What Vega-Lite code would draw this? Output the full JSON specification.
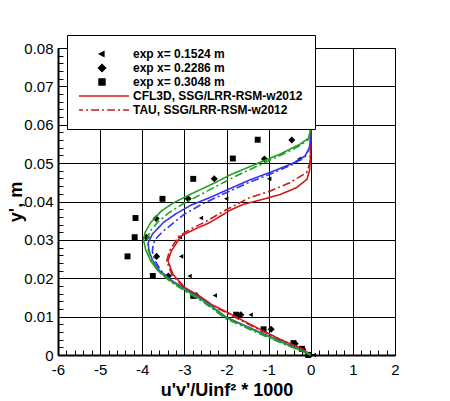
{
  "$schema": "https://vega.github.io/schema/vega-lite/v6.json",
  "width": 337,
  "height": 307,
  "autosize": "none",
  "padding": {"left": 58, "top": 48, "right": 55, "bottom": 46},
  "background": "white",
  "config": {
    "font": "Liberation Sans",
    "view": {"stroke": "black", "strokeWidth": 1}
  },
  "datasets": {
    "exp": [
      {"series": "exp x= 0.1524 m", "x": -0.27, "y": 0.0511},
      {"series": "exp x= 0.1524 m", "x": -0.98, "y": 0.0459},
      {"series": "exp x= 0.1524 m", "x": -2.0, "y": 0.0407},
      {"series": "exp x= 0.1524 m", "x": -2.6, "y": 0.0357},
      {"series": "exp x= 0.1524 m", "x": -3.1, "y": 0.0307},
      {"series": "exp x= 0.1524 m", "x": -3.07, "y": 0.0257},
      {"series": "exp x= 0.1524 m", "x": -2.87, "y": 0.0206},
      {"series": "exp x= 0.1524 m", "x": -2.27, "y": 0.0155},
      {"series": "exp x= 0.1524 m", "x": -1.42, "y": 0.0105},
      {"series": "exp x= 0.1524 m", "x": 0.08, "y": 0.0},
      {"series": "exp x= 0.2286 m", "x": -0.45, "y": 0.056},
      {"series": "exp x= 0.2286 m", "x": -1.1, "y": 0.0511},
      {"series": "exp x= 0.2286 m", "x": -2.29, "y": 0.0459},
      {"series": "exp x= 0.2286 m", "x": -2.91, "y": 0.0407},
      {"series": "exp x= 0.2286 m", "x": -3.67, "y": 0.0356},
      {"series": "exp x= 0.2286 m", "x": -3.9, "y": 0.0307},
      {"series": "exp x= 0.2286 m", "x": -3.66, "y": 0.0257},
      {"series": "exp x= 0.2286 m", "x": -3.38, "y": 0.0206},
      {"series": "exp x= 0.2286 m", "x": -2.72, "y": 0.0155},
      {"series": "exp x= 0.2286 m", "x": -1.66, "y": 0.0105},
      {"series": "exp x= 0.2286 m", "x": -0.94, "y": 0.0067},
      {"series": "exp x= 0.2286 m", "x": -0.37, "y": 0.0029},
      {"series": "exp x= 0.2286 m", "x": -0.19, "y": 0.0015},
      {"series": "exp x= 0.2286 m", "x": -0.02, "y": 0.0},
      {"series": "exp x= 0.3048 m", "x": -1.26, "y": 0.0561},
      {"series": "exp x= 0.3048 m", "x": -1.85, "y": 0.0512},
      {"series": "exp x= 0.3048 m", "x": -2.79, "y": 0.0459},
      {"series": "exp x= 0.3048 m", "x": -3.52, "y": 0.0407},
      {"series": "exp x= 0.3048 m", "x": -4.16, "y": 0.0357},
      {"series": "exp x= 0.3048 m", "x": -4.18, "y": 0.0307},
      {"series": "exp x= 0.3048 m", "x": -4.35, "y": 0.0257},
      {"series": "exp x= 0.3048 m", "x": -3.75, "y": 0.0206},
      {"series": "exp x= 0.3048 m", "x": -2.79, "y": 0.0154},
      {"series": "exp x= 0.3048 m", "x": -1.77, "y": 0.0105},
      {"series": "exp x= 0.3048 m", "x": -1.12, "y": 0.0067},
      {"series": "exp x= 0.3048 m", "x": -0.41, "y": 0.0031},
      {"series": "exp x= 0.3048 m", "x": -0.21, "y": 0.0016},
      {"series": "exp x= 0.3048 m", "x": -0.06, "y": 0.0}
    ],
    "cfd": [
      {"series": "CFL3D, SSG/LRR-RSM-w2012", "code": "CFL3D", "i": 0, "x": 0, "y": 0},
      {"series": "CFL3D, SSG/LRR-RSM-w2012", "code": "CFL3D", "i": 1, "x": -0.18, "y": 0.0015},
      {"series": "CFL3D, SSG/LRR-RSM-w2012", "code": "CFL3D", "i": 2, "x": -0.73, "y": 0.0041},
      {"series": "CFL3D, SSG/LRR-RSM-w2012", "code": "CFL3D", "i": 3, "x": -1.37, "y": 0.0076},
      {"series": "CFL3D, SSG/LRR-RSM-w2012", "code": "CFL3D", "i": 4, "x": -1.96, "y": 0.011},
      {"series": "CFL3D, SSG/LRR-RSM-w2012", "code": "CFL3D", "i": 5, "x": -2.36, "y": 0.0132},
      {"series": "CFL3D, SSG/LRR-RSM-w2012", "code": "CFL3D", "i": 6, "x": -2.59, "y": 0.015},
      {"series": "CFL3D, SSG/LRR-RSM-w2012", "code": "CFL3D", "i": 7, "x": -2.99, "y": 0.0176},
      {"series": "CFL3D, SSG/LRR-RSM-w2012", "code": "CFL3D", "i": 8, "x": -3.27, "y": 0.021},
      {"series": "CFL3D, SSG/LRR-RSM-w2012", "code": "CFL3D", "i": 9, "x": -3.39, "y": 0.0245},
      {"series": "CFL3D, SSG/LRR-RSM-w2012", "code": "CFL3D", "i": 10, "x": -3.31, "y": 0.0271},
      {"series": "CFL3D, SSG/LRR-RSM-w2012", "code": "CFL3D", "i": 11, "x": -3.08, "y": 0.031},
      {"series": "CFL3D, SSG/LRR-RSM-w2012", "code": "CFL3D", "i": 12, "x": -2.75, "y": 0.0328},
      {"series": "CFL3D, SSG/LRR-RSM-w2012", "code": "CFL3D", "i": 13, "x": -2.4, "y": 0.0345},
      {"series": "CFL3D, SSG/LRR-RSM-w2012", "code": "CFL3D", "i": 14, "x": -1.9, "y": 0.0378},
      {"series": "CFL3D, SSG/LRR-RSM-w2012", "code": "CFL3D", "i": 15, "x": -1.61, "y": 0.0392},
      {"series": "CFL3D, SSG/LRR-RSM-w2012", "code": "CFL3D", "i": 16, "x": -1.13, "y": 0.0406},
      {"series": "CFL3D, SSG/LRR-RSM-w2012", "code": "CFL3D", "i": 17, "x": -0.73, "y": 0.0418},
      {"series": "CFL3D, SSG/LRR-RSM-w2012", "code": "CFL3D", "i": 18, "x": -0.34, "y": 0.0436},
      {"series": "CFL3D, SSG/LRR-RSM-w2012", "code": "CFL3D", "i": 19, "x": -0.09, "y": 0.0458},
      {"series": "CFL3D, SSG/LRR-RSM-w2012", "code": "CFL3D", "i": 20, "x": -0.03, "y": 0.048},
      {"series": "CFL3D, SSG/LRR-RSM-w2012", "code": "CFL3D", "i": 21, "x": -0.01, "y": 0.0505},
      {"series": "CFL3D, SSG/LRR-RSM-w2012", "code": "CFL3D", "i": 22, "x": 0, "y": 0.055},
      {"series": "CFL3D, SSG/LRR-RSM-w2012", "code": "CFL3D", "i": 23, "x": 0, "y": 0.06},
      {"series": "TAU, SSG/LRR-RSM-w2012", "code": "TAU", "i": 0, "x": 0, "y": 0},
      {"series": "TAU, SSG/LRR-RSM-w2012", "code": "TAU", "i": 1, "x": -0.2, "y": 0.0015},
      {"series": "TAU, SSG/LRR-RSM-w2012", "code": "TAU", "i": 2, "x": -0.75, "y": 0.0041},
      {"series": "TAU, SSG/LRR-RSM-w2012", "code": "TAU", "i": 3, "x": -1.39, "y": 0.0075},
      {"series": "TAU, SSG/LRR-RSM-w2012", "code": "TAU", "i": 4, "x": -1.98, "y": 0.0109},
      {"series": "TAU, SSG/LRR-RSM-w2012", "code": "TAU", "i": 5, "x": -2.38, "y": 0.0131},
      {"series": "TAU, SSG/LRR-RSM-w2012", "code": "TAU", "i": 6, "x": -2.62, "y": 0.0149},
      {"series": "TAU, SSG/LRR-RSM-w2012", "code": "TAU", "i": 7, "x": -3.02, "y": 0.0176},
      {"series": "TAU, SSG/LRR-RSM-w2012", "code": "TAU", "i": 8, "x": -3.3, "y": 0.021},
      {"series": "TAU, SSG/LRR-RSM-w2012", "code": "TAU", "i": 9, "x": -3.42, "y": 0.0245},
      {"series": "TAU, SSG/LRR-RSM-w2012", "code": "TAU", "i": 10, "x": -3.35, "y": 0.0272},
      {"series": "TAU, SSG/LRR-RSM-w2012", "code": "TAU", "i": 11, "x": -3.13, "y": 0.031},
      {"series": "TAU, SSG/LRR-RSM-w2012", "code": "TAU", "i": 12, "x": -2.82, "y": 0.033},
      {"series": "TAU, SSG/LRR-RSM-w2012", "code": "TAU", "i": 13, "x": -2.5, "y": 0.0347},
      {"series": "TAU, SSG/LRR-RSM-w2012", "code": "TAU", "i": 14, "x": -2.05, "y": 0.0376},
      {"series": "TAU, SSG/LRR-RSM-w2012", "code": "TAU", "i": 15, "x": -1.45, "y": 0.041},
      {"series": "TAU, SSG/LRR-RSM-w2012", "code": "TAU", "i": 16, "x": -0.97, "y": 0.0427},
      {"series": "TAU, SSG/LRR-RSM-w2012", "code": "TAU", "i": 17, "x": -0.5, "y": 0.0449},
      {"series": "TAU, SSG/LRR-RSM-w2012", "code": "TAU", "i": 18, "x": -0.1, "y": 0.0475},
      {"series": "TAU, SSG/LRR-RSM-w2012", "code": "TAU", "i": 19, "x": -0.02, "y": 0.05},
      {"series": "TAU, SSG/LRR-RSM-w2012", "code": "TAU", "i": 20, "x": 0, "y": 0.055},
      {"series": "TAU, SSG/LRR-RSM-w2012", "code": "TAU", "i": 21, "x": 0, "y": 0.058},
      {"series": "CFL3D x=0.2286", "code": "CFL3D", "i": 0, "x": 0, "y": 0},
      {"series": "CFL3D x=0.2286", "code": "CFL3D", "i": 1, "x": -0.1, "y": 0.0006},
      {"series": "CFL3D x=0.2286", "code": "CFL3D", "i": 2, "x": -0.58, "y": 0.0029},
      {"series": "CFL3D x=0.2286", "code": "CFL3D", "i": 3, "x": -1.2, "y": 0.0059},
      {"series": "CFL3D x=0.2286", "code": "CFL3D", "i": 4, "x": -2.0, "y": 0.0098},
      {"series": "CFL3D x=0.2286", "code": "CFL3D", "i": 5, "x": -2.52, "y": 0.0141},
      {"series": "CFL3D x=0.2286", "code": "CFL3D", "i": 6, "x": -2.9, "y": 0.0166},
      {"series": "CFL3D x=0.2286", "code": "CFL3D", "i": 7, "x": -3.3, "y": 0.0194},
      {"series": "CFL3D x=0.2286", "code": "CFL3D", "i": 8, "x": -3.6, "y": 0.0221},
      {"series": "CFL3D x=0.2286", "code": "CFL3D", "i": 9, "x": -3.76, "y": 0.0248},
      {"series": "CFL3D x=0.2286", "code": "CFL3D", "i": 10, "x": -3.84, "y": 0.0272},
      {"series": "CFL3D x=0.2286", "code": "CFL3D", "i": 11, "x": -3.86, "y": 0.0292},
      {"series": "CFL3D x=0.2286", "code": "CFL3D", "i": 12, "x": -3.76, "y": 0.0315},
      {"series": "CFL3D x=0.2286", "code": "CFL3D", "i": 13, "x": -3.5, "y": 0.0345},
      {"series": "CFL3D x=0.2286", "code": "CFL3D", "i": 14, "x": -3.2, "y": 0.0368},
      {"series": "CFL3D x=0.2286", "code": "CFL3D", "i": 15, "x": -2.85, "y": 0.039},
      {"series": "CFL3D x=0.2286", "code": "CFL3D", "i": 16, "x": -2.4, "y": 0.041},
      {"series": "CFL3D x=0.2286", "code": "CFL3D", "i": 17, "x": -1.95, "y": 0.0432},
      {"series": "CFL3D x=0.2286", "code": "CFL3D", "i": 18, "x": -1.45, "y": 0.0456},
      {"series": "CFL3D x=0.2286", "code": "CFL3D", "i": 19, "x": -0.89, "y": 0.0479},
      {"series": "CFL3D x=0.2286", "code": "CFL3D", "i": 20, "x": -0.42, "y": 0.05},
      {"series": "CFL3D x=0.2286", "code": "CFL3D", "i": 21, "x": -0.14, "y": 0.0518},
      {"series": "CFL3D x=0.2286", "code": "CFL3D", "i": 22, "x": -0.03, "y": 0.054},
      {"series": "CFL3D x=0.2286", "code": "CFL3D", "i": 23, "x": 0, "y": 0.057},
      {"series": "TAU x=0.2286", "code": "TAU", "i": 0, "x": 0, "y": 0},
      {"series": "TAU x=0.2286", "code": "TAU", "i": 1, "x": -0.12, "y": 0.0006},
      {"series": "TAU x=0.2286", "code": "TAU", "i": 2, "x": -0.6, "y": 0.0028},
      {"series": "TAU x=0.2286", "code": "TAU", "i": 3, "x": -1.22, "y": 0.0058},
      {"series": "TAU x=0.2286", "code": "TAU", "i": 4, "x": -2.02, "y": 0.0097},
      {"series": "TAU x=0.2286", "code": "TAU", "i": 5, "x": -2.54, "y": 0.014},
      {"series": "TAU x=0.2286", "code": "TAU", "i": 6, "x": -2.92, "y": 0.0165},
      {"series": "TAU x=0.2286", "code": "TAU", "i": 7, "x": -3.3, "y": 0.0193},
      {"series": "TAU x=0.2286", "code": "TAU", "i": 8, "x": -3.56, "y": 0.022},
      {"series": "TAU x=0.2286", "code": "TAU", "i": 9, "x": -3.7, "y": 0.0247},
      {"series": "TAU x=0.2286", "code": "TAU", "i": 10, "x": -3.76, "y": 0.027},
      {"series": "TAU x=0.2286", "code": "TAU", "i": 11, "x": -3.74, "y": 0.029},
      {"series": "TAU x=0.2286", "code": "TAU", "i": 12, "x": -3.66, "y": 0.0305},
      {"series": "TAU x=0.2286", "code": "TAU", "i": 13, "x": -3.51, "y": 0.0322},
      {"series": "TAU x=0.2286", "code": "TAU", "i": 14, "x": -3.25, "y": 0.0345},
      {"series": "TAU x=0.2286", "code": "TAU", "i": 15, "x": -3.0, "y": 0.0367},
      {"series": "TAU x=0.2286", "code": "TAU", "i": 16, "x": -2.6, "y": 0.0392},
      {"series": "TAU x=0.2286", "code": "TAU", "i": 17, "x": -2.1, "y": 0.0418},
      {"series": "TAU x=0.2286", "code": "TAU", "i": 18, "x": -1.5, "y": 0.0448},
      {"series": "TAU x=0.2286", "code": "TAU", "i": 19, "x": -0.9, "y": 0.0474},
      {"series": "TAU x=0.2286", "code": "TAU", "i": 20, "x": -0.42, "y": 0.0497},
      {"series": "TAU x=0.2286", "code": "TAU", "i": 21, "x": -0.13, "y": 0.0517},
      {"series": "TAU x=0.2286", "code": "TAU", "i": 22, "x": -0.03, "y": 0.054},
      {"series": "TAU x=0.2286", "code": "TAU", "i": 23, "x": 0, "y": 0.057},
      {"series": "CFL3D x=0.3048", "code": "CFL3D", "i": 0, "x": 0, "y": 0},
      {"series": "CFL3D x=0.3048", "code": "CFL3D", "i": 1, "x": -0.1, "y": 0.0006},
      {"series": "CFL3D x=0.3048", "code": "CFL3D", "i": 2, "x": -0.58, "y": 0.0028},
      {"series": "CFL3D x=0.3048", "code": "CFL3D", "i": 3, "x": -1.21, "y": 0.0058},
      {"series": "CFL3D x=0.3048", "code": "CFL3D", "i": 4, "x": -2.0, "y": 0.0097},
      {"series": "CFL3D x=0.3048", "code": "CFL3D", "i": 5, "x": -2.52, "y": 0.0139},
      {"series": "CFL3D x=0.3048", "code": "CFL3D", "i": 6, "x": -2.9, "y": 0.0164},
      {"series": "CFL3D x=0.3048", "code": "CFL3D", "i": 7, "x": -3.31, "y": 0.0192},
      {"series": "CFL3D x=0.3048", "code": "CFL3D", "i": 8, "x": -3.62, "y": 0.0219},
      {"series": "CFL3D x=0.3048", "code": "CFL3D", "i": 9, "x": -3.8, "y": 0.0245},
      {"series": "CFL3D x=0.3048", "code": "CFL3D", "i": 10, "x": -3.92, "y": 0.0275},
      {"series": "CFL3D x=0.3048", "code": "CFL3D", "i": 11, "x": -3.97, "y": 0.03},
      {"series": "CFL3D x=0.3048", "code": "CFL3D", "i": 12, "x": -3.93, "y": 0.032},
      {"series": "CFL3D x=0.3048", "code": "CFL3D", "i": 13, "x": -3.8, "y": 0.0345},
      {"series": "CFL3D x=0.3048", "code": "CFL3D", "i": 14, "x": -3.55, "y": 0.0375},
      {"series": "CFL3D x=0.3048", "code": "CFL3D", "i": 15, "x": -3.25, "y": 0.0397},
      {"series": "CFL3D x=0.3048", "code": "CFL3D", "i": 16, "x": -2.87, "y": 0.0418},
      {"series": "CFL3D x=0.3048", "code": "CFL3D", "i": 17, "x": -2.29, "y": 0.0448},
      {"series": "CFL3D x=0.3048", "code": "CFL3D", "i": 18, "x": -1.9, "y": 0.047},
      {"series": "CFL3D x=0.3048", "code": "CFL3D", "i": 19, "x": -1.29, "y": 0.0498},
      {"series": "CFL3D x=0.3048", "code": "CFL3D", "i": 20, "x": -0.74, "y": 0.0523},
      {"series": "CFL3D x=0.3048", "code": "CFL3D", "i": 21, "x": -0.26, "y": 0.0549},
      {"series": "CFL3D x=0.3048", "code": "CFL3D", "i": 22, "x": -0.05, "y": 0.0565},
      {"series": "CFL3D x=0.3048", "code": "CFL3D", "i": 23, "x": 0, "y": 0.059},
      {"series": "TAU x=0.3048", "code": "TAU", "i": 0, "x": 0, "y": 0},
      {"series": "TAU x=0.3048", "code": "TAU", "i": 1, "x": -0.12, "y": 0.0006},
      {"series": "TAU x=0.3048", "code": "TAU", "i": 2, "x": -0.6, "y": 0.0027},
      {"series": "TAU x=0.3048", "code": "TAU", "i": 3, "x": -1.23, "y": 0.0056},
      {"series": "TAU x=0.3048", "code": "TAU", "i": 4, "x": -2.02, "y": 0.0095},
      {"series": "TAU x=0.3048", "code": "TAU", "i": 5, "x": -2.55, "y": 0.0138},
      {"series": "TAU x=0.3048", "code": "TAU", "i": 6, "x": -2.93, "y": 0.0163},
      {"series": "TAU x=0.3048", "code": "TAU", "i": 7, "x": -3.33, "y": 0.0191},
      {"series": "TAU x=0.3048", "code": "TAU", "i": 8, "x": -3.62, "y": 0.0218},
      {"series": "TAU x=0.3048", "code": "TAU", "i": 9, "x": -3.77, "y": 0.0245},
      {"series": "TAU x=0.3048", "code": "TAU", "i": 10, "x": -3.86, "y": 0.0275},
      {"series": "TAU x=0.3048", "code": "TAU", "i": 11, "x": -3.88, "y": 0.03},
      {"series": "TAU x=0.3048", "code": "TAU", "i": 12, "x": -3.82, "y": 0.0322},
      {"series": "TAU x=0.3048", "code": "TAU", "i": 13, "x": -3.62, "y": 0.0348},
      {"series": "TAU x=0.3048", "code": "TAU", "i": 14, "x": -3.35, "y": 0.0372},
      {"series": "TAU x=0.3048", "code": "TAU", "i": 15, "x": -3.0, "y": 0.0396},
      {"series": "TAU x=0.3048", "code": "TAU", "i": 16, "x": -2.65, "y": 0.0416},
      {"series": "TAU x=0.3048", "code": "TAU", "i": 17, "x": -2.2, "y": 0.0442},
      {"series": "TAU x=0.3048", "code": "TAU", "i": 18, "x": -1.8, "y": 0.0465},
      {"series": "TAU x=0.3048", "code": "TAU", "i": 19, "x": -1.2, "y": 0.0496},
      {"series": "TAU x=0.3048", "code": "TAU", "i": 20, "x": -0.7, "y": 0.0521},
      {"series": "TAU x=0.3048", "code": "TAU", "i": 21, "x": -0.25, "y": 0.0546},
      {"series": "TAU x=0.3048", "code": "TAU", "i": 22, "x": -0.05, "y": 0.0562},
      {"series": "TAU x=0.3048", "code": "TAU", "i": 23, "x": 0, "y": 0.059}
    ]
  },
  "encoding": {
    "x": {
      "field": "x", "type": "quantitative",
      "scale": {"domain": [-6, 2], "nice": false, "zero": false},
      "axis": {
        "title": "u'v'/Uinf² * 1000",
        "values": [-6, -5.8, -5.6, -5.4, -5.2, -5, -4.8, -4.6, -4.4, -4.2, -4, -3.8, -3.6, -3.4, -3.2, -3, -2.8, -2.6, -2.4, -2.2, -2, -1.8, -1.6, -1.4, -1.2, -1, -0.8, -0.6, -0.4, -0.2, 0, 0.2, 0.4, 0.6, 0.8, 1, 1.2, 1.4, 1.6, 1.8, 2],
        "labelExpr": "abs(datum.value - round(datum.value)) < 1e-6 ? '' + round(datum.value) : ''",
        "labelOverlap": false,
        "labelFlush": false,
        "labelFontSize": 15,
        "labelColor": "black",
        "labelPadding": 12,
        "grid": true,
        "gridColor": "black",
        "gridWidth": 1,
        "gridOpacity": {"condition": {"test": "abs(datum.value - round(datum.value)) < 1e-6", "value": 1}, "value": 0},
        "tickColor": "black",
        "tickSize": -5,
        "tickWidth": 1,
        "domainColor": "black",
        "domainWidth": 2,
        "titleFontSize": 18,
        "titleFontWeight": "bold",
        "titleColor": "black",
        "titlePadding": 4
      }
    },
    "y": {
      "field": "y", "type": "quantitative",
      "scale": {"domain": [0, 0.08], "nice": false, "zero": false},
      "axis": {
        "title": "y', m",
        "values": [0, 0.002, 0.004, 0.006, 0.008, 0.01, 0.012, 0.014, 0.016, 0.018, 0.02, 0.022, 0.024, 0.026, 0.028, 0.03, 0.032, 0.034, 0.036, 0.038, 0.04, 0.042, 0.044, 0.046, 0.048, 0.05, 0.052, 0.054, 0.056, 0.058, 0.06, 0.062, 0.064, 0.066, 0.068, 0.07, 0.072, 0.074, 0.076, 0.078, 0.08],
        "labelExpr": "abs(datum.value * 100 - round(datum.value * 100)) < 1e-6 ? (datum.value < 1e-9 ? '0' : format(datum.value, '.2f')) : ''",
        "labelOverlap": false,
        "labelFlush": false,
        "labelFontSize": 15,
        "labelColor": "black",
        "labelPadding": 10,
        "grid": true,
        "gridColor": "black",
        "gridWidth": 1,
        "gridOpacity": {"condition": {"test": "abs(datum.value * 100 - round(datum.value * 100)) < 1e-6", "value": 1}, "value": 0},
        "tickColor": "black",
        "tickSize": -5,
        "tickWidth": 1,
        "domainColor": "black",
        "domainWidth": 2,
        "titleFontSize": 18,
        "titleFontWeight": "bold",
        "titleColor": "black",
        "titlePadding": -2
      }
    }
  },
  "layer": [
    {
      "data": {"name": "exp"},
      "mark": {"type": "point", "filled": true, "opacity": 1, "size": 2916, "strokeWidth": 0},
      "encoding": {
        "color": {
          "field": "series", "type": "nominal",
          "scale": {
            "domain": ["exp x= 0.1524 m", "exp x= 0.2286 m", "exp x= 0.3048 m", "CFL3D, SSG/LRR-RSM-w2012", "TAU, SSG/LRR-RSM-w2012", "CFL3D x=0.2286", "TAU x=0.2286", "CFL3D x=0.3048", "TAU x=0.3048"],
            "range": ["black", "black", "black", "#cc1a1a", "#cc1a1a", "#3535ee", "#3535ee", "#22a022", "#22a022"]
          },
          "legend": {
            "title": null,
            "values": ["exp x= 0.1524 m", "exp x= 0.2286 m", "exp x= 0.3048 m", "CFL3D, SSG/LRR-RSM-w2012", "TAU, SSG/LRR-RSM-w2012"],
            "orient": "none", "legendX": 9, "legendY": -13,
            "padding": 12, "fillColor": "white", "strokeColor": "black",
            "labelFont": "Liberation Sans", "labelFontSize": 12, "labelFontWeight": "bold", "labelColor": "black",
            "labelOffset": 3, "labelLimit": 400, "symbolSize": 2916, "symbolOffset": -5, "clipHeight": 14, "rowPadding": -0.7,
            "symbolStrokeWidth": 1.5,
            "encode": {"symbols": {"update": {"stroke": {"value": {"expr": "scale('color', datum.value)"}}, "strokeWidth": {"value": 1.6}, "opacity": {"value": 1}}}}
          }
        },
        "shape": {
          "field": "series", "type": "nominal",
          "scale": {
            "domain": ["exp x= 0.1524 m", "exp x= 0.2286 m", "exp x= 0.3048 m", "CFL3D, SSG/LRR-RSM-w2012", "TAU, SSG/LRR-RSM-w2012", "CFL3D x=0.2286", "TAU x=0.2286", "CFL3D x=0.3048", "TAU x=0.3048"],
            "range": [
              "M-0.09,0L0.07,-0.085L0.07,0.085Z",
              "M0,-0.13L0.13,0L0,0.13L-0.13,0Z",
              "M-0.11,-0.11H0.11V0.11H-0.11Z",
              "M-1,0H1",
              "M-1,0H-0.7M-0.59,0H-0.52M-0.41,0H-0.11M0,0H0.07M0.19,0H0.48M0.59,0H0.67M0.78,0H1",
              "M-1,0H1", "M-1,0H1", "M-1,0H1", "M-1,0H1"
            ]
          },
          "legend": {
            "title": null,
            "values": ["exp x= 0.1524 m", "exp x= 0.2286 m", "exp x= 0.3048 m", "CFL3D, SSG/LRR-RSM-w2012", "TAU, SSG/LRR-RSM-w2012"],
            "orient": "none", "legendX": 9, "legendY": -13,
            "padding": 12, "fillColor": "white", "strokeColor": "black",
            "labelFont": "Liberation Sans", "labelFontSize": 12, "labelFontWeight": "bold", "labelColor": "black",
            "labelOffset": 3, "labelLimit": 400, "symbolSize": 2916, "symbolOffset": -5, "clipHeight": 14, "rowPadding": -0.7,
            "symbolStrokeWidth": 1.5,
            "encode": {"symbols": {"update": {"stroke": {"value": {"expr": "scale('color', datum.value)"}}, "strokeWidth": {"value": 1.6}, "opacity": {"value": 1}}}}
          }
        }
      }
    },
    {
      "data": {"name": "cfd"},
      "mark": {"type": "line", "strokeWidth": 1.6},
      "encoding": {
        "color": {
          "field": "series", "type": "nominal",
          "scale": {
            "domain": ["exp x= 0.1524 m", "exp x= 0.2286 m", "exp x= 0.3048 m", "CFL3D, SSG/LRR-RSM-w2012", "TAU, SSG/LRR-RSM-w2012", "CFL3D x=0.2286", "TAU x=0.2286", "CFL3D x=0.3048", "TAU x=0.3048"],
            "range": ["black", "black", "black", "#cc1a1a", "#cc1a1a", "#3535ee", "#3535ee", "#22a022", "#22a022"]
          },
          "legend": null
        },
        "strokeDash": {
          "field": "code", "type": "nominal",
          "scale": {"domain": ["CFL3D", "TAU"], "range": [[1, 0], [8, 3, 2, 3]]},
          "legend": null
        },
        "order": {"field": "i", "type": "quantitative"}
      }
    }
  ]
}
